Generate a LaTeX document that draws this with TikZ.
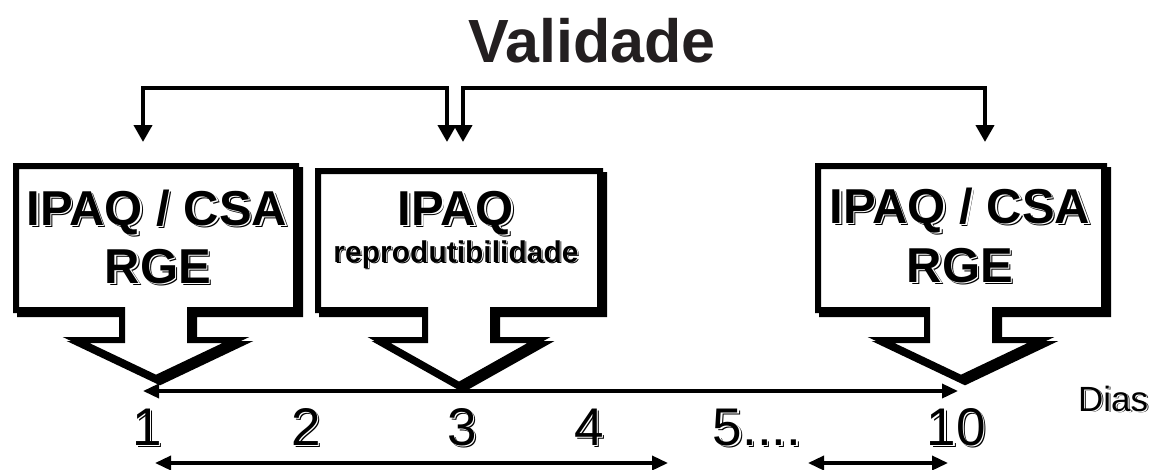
\documentclass[tikz,border=0pt]{standalone}
\usepackage{fontspec}
\setmainfont{Liberation Sans}
\usetikzlibrary{calc}
\usetikzlibrary{arrows.meta}
\usetikzlibrary{positioning}

% texto com sombra deslocada
\newcommand{\sombra}[1]{\leavevmode\rlap{\hspace{0.05em}\raisebox{-0.05em}{\color{black}#1}}\rlap{\hspace{0.03em}\raisebox{-0.03em}{\color{white}#1}}#1}

% contorno do balao: caixa, haste e ponta
\newcommand{\balao}[2]{(#1.north west) -- (#1.north east) -- (#1.south east)
	-- ($(#1.south)+(34,0)$) -- ($(#1.south)+(34,30)$) -- ($(#1.south)+(80,30)$)
	-- ($(#1.south)+(0,#2)$)
	-- ($(#1.south)+(-80,30)$) -- ($(#1.south)+(-34,30)$) -- ($(#1.south)+(-34,0)$)
	-- (#1.south west) -- cycle}

\definecolor{titulo}{HTML}{231F20}

\tikzset{
	caixa/.style={
		rectangle,
		inner sep=0pt,
		outer sep=0pt},
	contorno/.style={draw=black, fill=white, line width=6pt},
	sombreado/.style={draw=black, fill=black, line width=6pt,
		transform canvas={xshift=4pt, yshift=-4pt}},
	rotulo/.style={inner sep=0pt, anchor=base, font=\bfseries\fontsize{49}{56}\selectfont},
	rotulomenor/.style={inner sep=0pt, anchor=base, font=\bfseries\fontsize{30}{36}\selectfont},
	numero/.style={inner sep=0pt, anchor=base, font=\fontsize{53}{60}\selectfont},
	chave/.style={draw, line width=4pt, {Triangle[length=17pt,width=18pt]}-{Triangle[length=17pt,width=18pt]}},
	linha/.style={draw, line width=3.5pt, {Triangle[length=16pt,width=14pt]}-{Triangle[length=16pt,width=14pt]}},
}

\begin{document}
\begin{tikzpicture}[x=1pt, y=-1pt]
	\useasboundingbox (0,0) rectangle (1153,469);

	\node[inner sep=0pt, anchor=base, text=titulo, font=\bfseries\fontsize{61}{70}\selectfont] (val) at (592,62) {Validade};

	% baloes
	\node[caixa, minimum width=280pt, minimum height=144pt] (b1) at (156,238) {};
	\node[caixa, minimum width=282pt, minimum height=139pt] (b2) at (459,240.5) {};
	\node[caixa, minimum width=286pt, minimum height=144pt] (b3) at (961,238) {};

	\path[sombreado] \balao{b1}{68};
	\path[sombreado] \balao{b2}{75};
	\path[sombreado] \balao{b3}{68};
	\path[contorno] \balao{b1}{68};
	\path[contorno] \balao{b2}{75};
	\path[contorno] \balao{b3}{68};

	\node[rotulo] (t1a) at (157,225) {\sombra{IPAQ / CSA}};
	\node[rotulo] (t1b) at (158,283) {\sombra{RGE}};
	\node[rotulo] (t2a) at (456,225) {\sombra{IPAQ}};
	\node[rotulomenor] (t2b) at (456,262) {\sombra{reprodutibilidade}};
	\node[rotulo] (t3a) at (960,223) {\sombra{IPAQ / CSA}};
	\node[rotulo] (t3b) at (960,282) {\sombra{RGE}};

	% chaves da validade
	\coordinate (topo) at (0,88);
	\coordinate (c1) at (143,142);
	\coordinate (c2) at (447,142);
	\coordinate (c3) at (463,142);
	\coordinate (c4) at (985,142);
	\draw[chave] (c1) |- (c2 |- topo) -- (c2);
	\draw[chave] (c3) |- (c4 |- topo) -- (c4);

	% dias
	\node[numero] (n1) at (147,445) {\sombra{1}};
	\node[numero] (n2) at (306,445) {\sombra{2}};
	\node[numero] (n3) at (462,445) {\sombra{3}};
	\node[numero] (n4) at (589,445) {\sombra{4}};
	\node[numero] (n5) at (757,445) {\sombra{5....}};
	\node[numero] (n10) at (956,445) {\sombra{10}};
	\node[inner sep=0pt, anchor=base, font=\fontsize{35}{40}\selectfont] (dias) at (1113,411) {\sombra{Dias}};

	\coordinate (e1) at (143,391);
	\coordinate (e10) at (958,391);
	\draw[linha] (e1) -- (e10);

	\coordinate (i1) at (155,463);
	\coordinate (i4) at (668,463);
	\coordinate (i5) at (808,463);
	\coordinate (i10) at (948,463);
	\draw[linha] (i1) -- (i4);
	\draw[linha] (i5) -- (i10);
\end{tikzpicture}
\end{document}
